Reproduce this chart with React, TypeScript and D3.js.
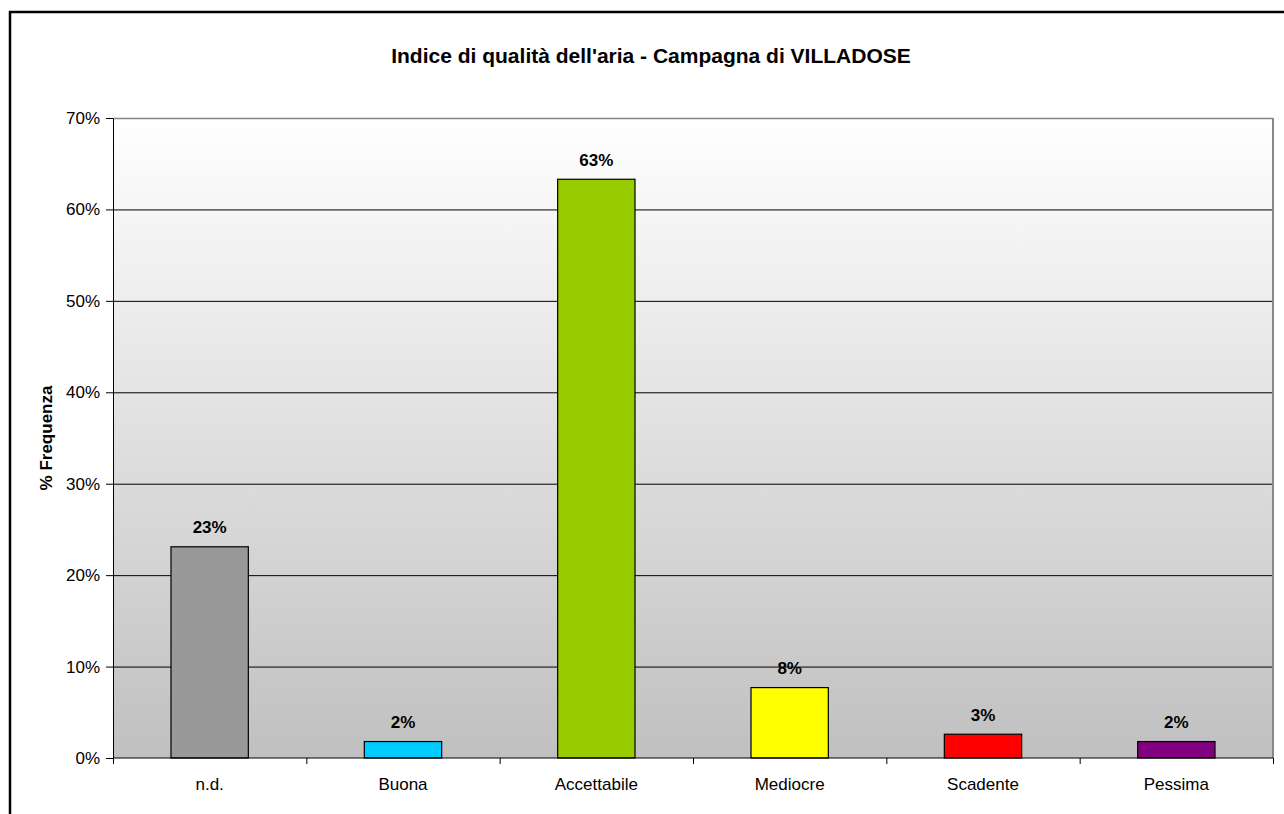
import React, { useRef, useEffect } from 'react';
import * as d3 from 'd3';

const categories = ['n.d.', 'Buona', 'Accettabile', 'Mediocre', 'Scadente', 'Pessima'];
const values = [23.1, 1.8, 63.3, 7.7, 2.6, 1.8];
const labels = ['23%', '2%', '63%', '8%', '3%', '2%'];
const barColors = ['#999999', '#00ccff', '#99cc00', '#ffff00', '#ff0000', '#800080'];
const yTicks = [0, 10, 20, 30, 40, 50, 60, 70];

const FONT = 'Liberation Sans, Arial, sans-serif';

const App: React.FC = () => {
  const ref = useRef<SVGSVGElement | null>(null);

  useEffect(() => {
    if (!ref.current) return;
    const svg = d3.select(ref.current);
    svg.selectAll('*').remove();

    const width = 1284;
    const height = 814;
    const margin = { top: 118, right: 11, bottom: 56, left: 113 };
    const innerWidth = width - margin.left - margin.right;
    const innerHeight = height - margin.top - margin.bottom;

    svg.attr('width', width).attr('height', height);

    // outer frame
    svg.append('rect')
      .attr('x', 10).attr('y', 12)
      .attr('width', 1400).attr('height', 1000)
      .attr('fill', '#fff')
      .attr('stroke', '#000')
      .attr('stroke-width', 2.5);

    const defs = svg.append('defs');
    const grad = defs.append('linearGradient')
      .attr('id', 'bg').attr('x1', 0).attr('y1', 0).attr('x2', 0).attr('y2', 1);
    grad.append('stop').attr('offset', '0%').attr('stop-color', '#ffffff');
    grad.append('stop').attr('offset', '100%').attr('stop-color', '#c0c0c0');

    const g = svg.append('g').attr('transform', `translate(${margin.left},${margin.top})`);

    const x = d3.scaleBand().domain(categories).range([0, innerWidth]).paddingInner(0.6).paddingOuter(0.3);
    const band = d3.scaleBand().domain(categories).range([0, innerWidth]);
    const y = d3.scaleLinear().domain([0, 70]).range([innerHeight, 0]);

    g.append('rect')
      .attr('width', innerWidth).attr('height', innerHeight)
      .attr('fill', 'url(#bg)');

    // gridlines
    g.append('g').selectAll('line')
      .data(yTicks.filter(t => t > 0))
      .join('line')
      .attr('x1', 0).attr('x2', innerWidth)
      .attr('y1', d => y(d) + 0.5).attr('y2', d => y(d) + 0.5)
      .attr('stroke', d => (d === 70 ? '#888' : '#000'))
      .attr('stroke-width', d => (d === 70 ? 1.5 : 1));

    // right border of plot
    g.append('line')
      .attr('x1', innerWidth).attr('x2', innerWidth)
      .attr('y1', 0).attr('y2', innerHeight)
      .attr('stroke', '#888').attr('stroke-width', 2);

    // bars
    g.append('g').selectAll('rect')
      .data(categories)
      .join('rect')
      .attr('x', d => x(d) || 0)
      .attr('y', (d, i) => y(values[i]))
      .attr('width', x.bandwidth())
      .attr('height', (d, i) => innerHeight - y(values[i]))
      .attr('fill', (d, i) => barColors[i])
      .attr('stroke', '#000')
      .attr('stroke-width', 1.2);

    // value labels
    g.append('g').selectAll('text')
      .data(categories)
      .join('text')
      .attr('x', d => (x(d) || 0) + x.bandwidth() / 2)
      .attr('y', (d, i) => y(values[i]) - 13.5)
      .attr('text-anchor', 'middle')
      .attr('font-family', FONT)
      .attr('font-size', 17)
      .attr('font-weight', 'bold')
      .text((d, i) => labels[i]);

    // y axis
    const yAxis = g.append('g')
      .call(d3.axisLeft(y).tickValues(yTicks).tickSize(7).tickSizeOuter(0).tickPadding(6).tickFormat(d => `${d}%`));
    yAxis.select('.domain').attr('stroke', '#000');
    yAxis.selectAll('text')
      .attr('font-family', FONT)
      .attr('font-size', 17)
      .attr('fill', '#000');

    // x axis
    const xAxis = g.append('g').attr('transform', `translate(0,${innerHeight})`);
    xAxis.append('line')
      .attr('x1', 0).attr('x2', innerWidth)
      .attr('stroke', '#000');
    xAxis.selectAll('line.tick')
      .data([...categories.map(c => band(c) || 0), innerWidth])
      .join('line')
      .attr('class', 'tick')
      .attr('x1', d => d + 0.5).attr('x2', d => d + 0.5)
      .attr('y1', 0).attr('y2', 6)
      .attr('stroke', '#000');
    xAxis.selectAll('text')
      .data(categories)
      .join('text')
      .attr('x', d => (band(d) || 0) + band.bandwidth() / 2)
      .attr('y', 32)
      .attr('text-anchor', 'middle')
      .attr('font-family', FONT)
      .attr('font-size', 17)
      .text(d => d);

    // title
    svg.append('text')
      .attr('x', 651).attr('y', 63)
      .attr('text-anchor', 'middle')
      .attr('font-family', FONT)
      .attr('font-size', 21)
      .attr('font-weight', 'bold')
      .text("Indice di qualità dell'aria - Campagna di VILLADOSE");

    // y axis title
    svg.append('text')
      .attr('transform', `translate(52,${margin.top + innerHeight / 2}) rotate(-90)`)
      .attr('text-anchor', 'middle')
      .attr('font-family', FONT)
      .attr('font-size', 17)
      .attr('font-weight', 'bold')
      .text('% Frequenza');
  }, []);

  return (
    <svg ref={ref} style={{ position: 'absolute', left: 0, top: 0 }} />
  );
};

export default App;
